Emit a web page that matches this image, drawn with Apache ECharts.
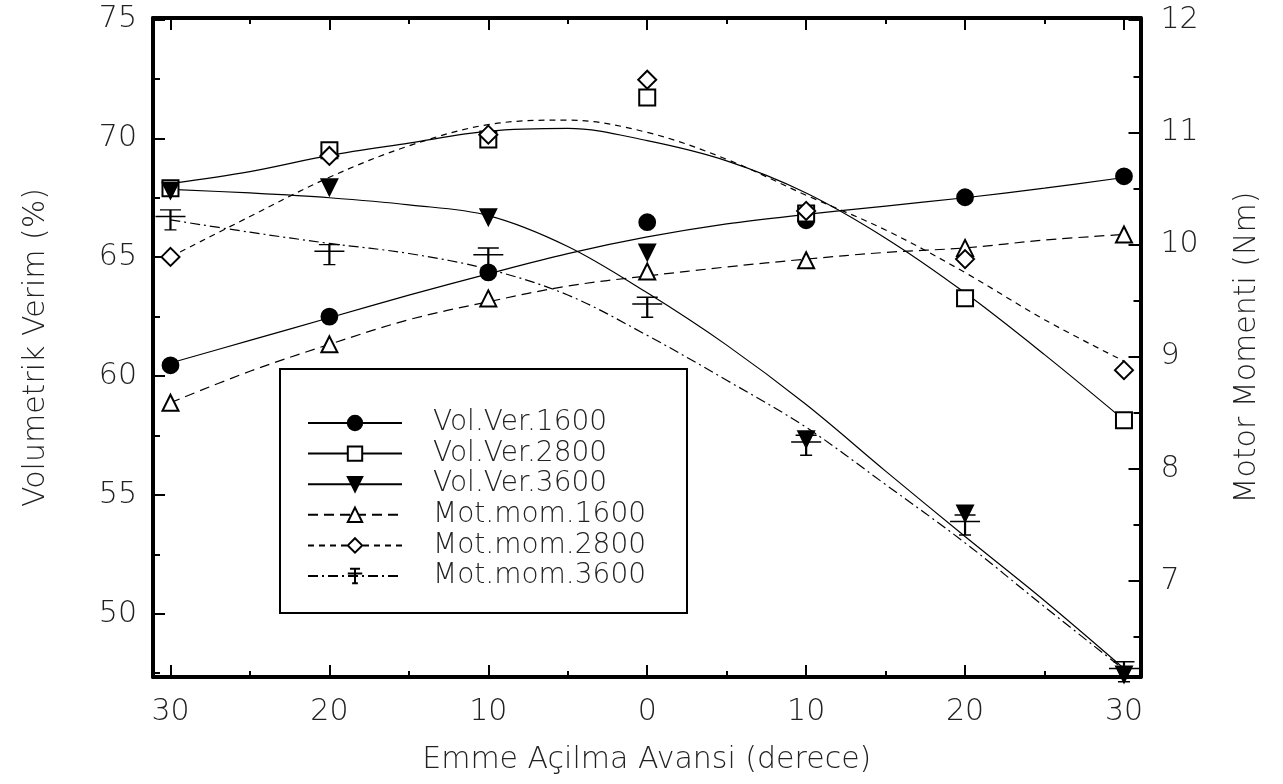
<!DOCTYPE html>
<html><head><meta charset="utf-8">
<script src="https://cdn.jsdelivr.net/npm/echarts@6/dist/echarts.min.js"></script>
<style>html,body{margin:0;padding:0;background:#fff}#c{width:1283px;height:784px}</style>
</head><body><div id="c"></div>
<script>
// ---- measured points (markers) ----
const xPoints = [-30, -20, -10, 0, 10, 20, 30];
const volVer1600 = [60.45, 62.5, 64.36, 66.47, 66.55, 67.52, 68.4];
const volVer2800 = [67.9, 69.5, 69.95, 71.72, 66.84, 63.27, 58.14];
const volVer3600 = [67.8, 67.94, 66.68, 65.2, 57.34, 54.22, 47.45];
const motMom1600 = [8.59, 9.11, 9.52, 9.76, 9.86, 9.97, 10.09];
const motMom2800 = [9.89, 10.79, 10.98, 11.47, 10.3, 9.87, 8.88];
const motMom3600 = [10.22, 9.91, 9.88, 9.44, 8.21, 7.5, 6.19];

// ---- fitted curves ----
const fitX = [-30, -25, -20, -15, -10, -5, 0, 5, 10, 15, 20, 25, 30];
const fitVolVer1600 = [60.55, 61.5, 62.45, 63.4, 64.3, 65.15, 65.85, 66.4, 66.8, 67.15, 67.5, 67.9, 68.35];
const fitVolVer2800 = [68.1, 68.6, 69.28, 69.8, 70.3, 70.42, 69.9, 69.05, 67.7, 65.8, 63.5, 60.9, 58.15];
const fitVolVer3600 = [67.85, 67.7, 67.5, 67.2, 66.75, 65.45, 63.5, 61.3, 58.8, 56.0, 53.25, 50.55, 47.7];
const fitMotMom1600 = [8.59, 8.87, 9.11, 9.33, 9.49, 9.63, 9.72, 9.80, 9.87, 9.93, 9.97, 10.04, 10.09];
const fitMotMom2800 = [9.89, 10.25, 10.6, 10.88, 11.07, 11.11, 11.0, 10.76, 10.44, 10.13, 9.75, 9.33, 8.96];
const fitMotMom3600 = [10.22, 10.11, 10.01, 9.92, 9.78, 9.55, 9.19, 8.79, 8.37, 7.86, 7.34, 6.77, 6.21];

const seriesNames = ['Vol.Ver.1600', 'Vol.Ver.2800', 'Vol.Ver.3600', 'Mot.mom.1600', 'Mot.mom.2800', 'Mot.mom.3600'];

// ---- axes ----
const xTicks = [-30, -20, -10, 0, 10, 20, 30];
const xTickLabels = ['30', '20', '10', '0', '10', '20', '30'];
const xMinorTicks = [-25, -15, -5, 5, 15, 25];
const leftTicks = [50, 55, 60, 65, 70, 75];
const leftMinorTicks = [47.5, 52.5, 57.5, 62.5, 67.5, 72.5];
const rightTicks = [7, 8, 9, 10, 11, 12];
const rightMinorTicks = [6.5, 7.5, 8.5, 9.5, 10.5, 11.5];
const xRange = [-31.1, 31.04];
const leftRange = [47.34, 75.06];
const rightRange = [6.144, 12.02];

const xTitle = 'Emme Açilma Avansi (derece)';
const leftTitle = 'Volumetrik Verim (%)';
const rightTitle = 'Motor Momenti (Nm)';

const FONT = 'DejaVu Sans';
const TXT = '#222';
const pair = (xs, ys) => xs.map((x, i) => [x, ys[i]]);
const crossPath = 'path://M3,1 L17,1 M0,7 L20,7 M10,1 L10,19 M6,19 L14,19';

const markers = [
  {sym: 'circle', size: 16, rot: 0},
  {sym: 'emptyRect', size: 16, rot: 0},
  {sym: 'triangle', size: 16, rot: 180},
  {sym: 'emptyTriangle', size: 16, rot: 0},
  {sym: 'emptyDiamond', size: 18, rot: 0},
  {sym: crossPath, size: [30, 20], rot: 0}
];
const dashes = ['solid', 'solid', 'solid', [10, 6], [6, 5], [10, 4, 2, 4]];
const fits = [fitVolVer1600, fitVolVer2800, fitVolVer3600, fitMotMom1600, fitMotMom2800, fitMotMom3600];
const pts = [volVer1600, volVer2800, volVer3600, motMom1600, motMom2800, motMom3600];

const series = [];
seriesNames.forEach((name, i) => {
  const yIdx = i < 3 ? 0 : 1;
  series.push({
    name, type: 'line', xAxisIndex: 0, yAxisIndex: yIdx,
    data: pair(fitX, fits[i]), smooth: 0.35, showSymbol: false,
    symbol: markers[i].sym, symbolSize: markers[i].size, symbolRotate: markers[i].rot,
    symbolKeepAspect: false,
    lineStyle: {color: '#000', width: 1.2, type: dashes[i]},
    itemStyle: {color: '#000', borderColor: '#000', borderWidth: 1.8, opacity: 1},
    z: 2, silent: true
  });
});
seriesNames.forEach((name, i) => {
  const yIdx = i < 3 ? 0 : 1;
  series.push({
    name, type: 'scatter', xAxisIndex: 0, yAxisIndex: yIdx,
    data: pair(xPoints, pts[i]),
    symbol: markers[i].sym, symbolSize: markers[i].size, symbolRotate: markers[i].rot,
    symbolKeepAspect: false,
    itemStyle: {color: '#000', borderColor: '#000', borderWidth: 1.8, opacity: 1},
    z: 3, silent: true
  });
});

const lbl = {fontFamily: FONT, fontSize: 30, color: TXT, fontWeight: 200};
const axLine = {show: true, onZero: false, lineStyle: {color: '#000', width: 4}};
const noLine = {show: false, onZero: false};

const chart = echarts.init(document.getElementById('c'), null, {renderer: 'canvas'});
chart.setOption({
  animation: false,
  backgroundColor: '#fff',
  textStyle: {fontFamily: FONT},
  grid: {left: 153, right: 142.5, top: 18, bottom: 107, containLabel: false},
  legend: {
    data: seriesNames, orient: 'vertical', left: 280, top: 369,
    itemWidth: 94, itemHeight: 18, itemGap: 2.6,
    padding: [40, 41, 23, 27],
    borderColor: '#000', borderWidth: 2, backgroundColor: '#fff',
    selectedMode: false,
    textStyle: {fontFamily: FONT, fontSize: 28, color: TXT, fontWeight: 200, width: 230, padding: [0, 0, 0, 26]}
  },
  xAxis: [
    {type: 'value', position: 'bottom', min: xRange[0], max: xRange[1],
     axisLine: axLine, splitLine: {show: false},
     axisTick: {show: true, inside: true, length: 12, customValues: xTicks, lineStyle: {color: '#000', width: 2}},
     axisLabel: Object.assign({customValues: xTicks, margin: 20,
       formatter: v => { const k = xTicks.indexOf(Math.round(v)); return k >= 0 ? xTickLabels[k] : ''; }}, lbl),
     name: xTitle, nameLocation: 'middle', nameGap: 68,
     nameTextStyle: {fontFamily: FONT, fontSize: 30, color: TXT, fontWeight: 200}},
    {type: 'value', position: 'bottom', min: xRange[0], max: xRange[1],
     axisLine: noLine, splitLine: {show: false}, axisLabel: {show: false},
     axisTick: {show: true, inside: true, length: 6, customValues: xMinorTicks, lineStyle: {color: '#000', width: 2}}},
    {type: 'value', position: 'top', min: xRange[0], max: xRange[1],
     axisLine: axLine, splitLine: {show: false}, axisLabel: {show: false},
     axisTick: {show: true, inside: true, length: 12, customValues: xTicks, lineStyle: {color: '#000', width: 2}}},
    {type: 'value', position: 'top', min: xRange[0], max: xRange[1],
     axisLine: noLine, splitLine: {show: false}, axisLabel: {show: false},
     axisTick: {show: true, inside: true, length: 6, customValues: xMinorTicks, lineStyle: {color: '#000', width: 2}}}
  ],
  yAxis: [
    {type: 'value', position: 'left', min: leftRange[0], max: leftRange[1],
     axisLine: axLine, splitLine: {show: false},
     axisTick: {show: true, inside: true, length: 12, customValues: leftTicks, lineStyle: {color: '#000', width: 2}},
     axisLabel: Object.assign({customValues: leftTicks, margin: 16}, lbl),
     name: leftTitle, nameLocation: 'middle', nameRotate: 90, nameGap: 102,
     nameTextStyle: {fontFamily: FONT, fontSize: 30, color: TXT, fontWeight: 200}},
    {type: 'value', position: 'right', min: rightRange[0], max: rightRange[1],
     axisLine: axLine, splitLine: {show: false},
     axisTick: {show: true, inside: true, length: 12, customValues: rightTicks, lineStyle: {color: '#000', width: 2}},
     axisLabel: Object.assign({customValues: rightTicks, margin: 20}, lbl),
     name: rightTitle, nameLocation: 'middle', nameRotate: 90, nameGap: 92,
     nameTextStyle: {fontFamily: FONT, fontSize: 30, color: TXT, fontWeight: 200}},
    {type: 'value', position: 'left', min: leftRange[0], max: leftRange[1],
     axisLine: noLine, splitLine: {show: false}, axisLabel: {show: false},
     axisTick: {show: true, inside: true, length: 7, customValues: leftMinorTicks, lineStyle: {color: '#000', width: 2}}},
    {type: 'value', position: 'right', min: rightRange[0], max: rightRange[1],
     axisLine: noLine, splitLine: {show: false}, axisLabel: {show: false},
     axisTick: {show: true, inside: true, length: 7, customValues: rightMinorTicks, lineStyle: {color: '#000', width: 2}}}
  ],
  series
});
</script></body></html>
